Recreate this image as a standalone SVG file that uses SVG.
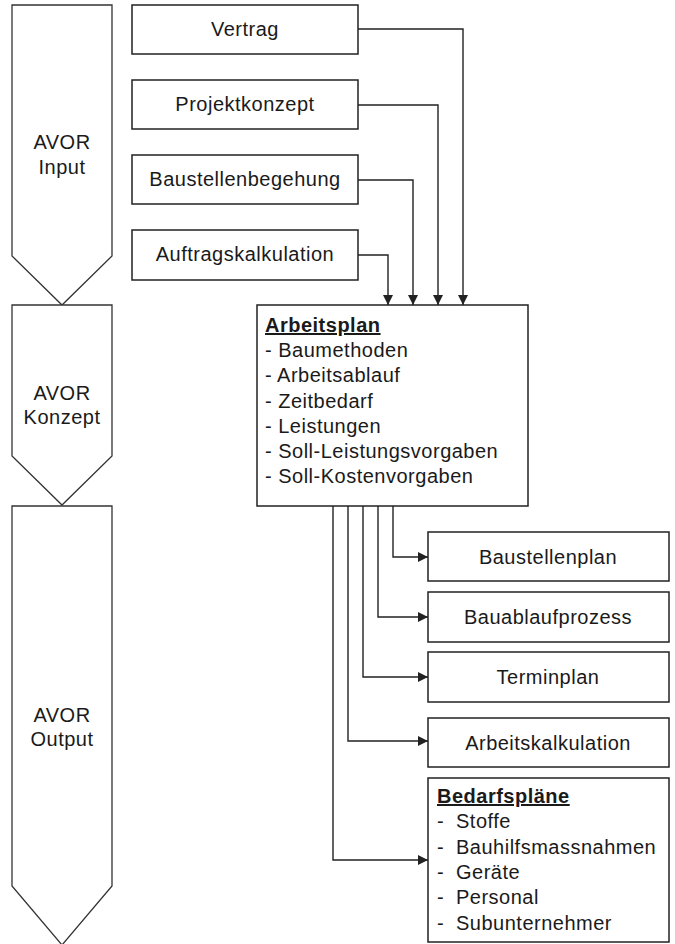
<svg xmlns="http://www.w3.org/2000/svg" width="675" height="944" viewBox="0 0 675 944">
  <defs>
    <marker id="arrow" viewBox="0 0 10 10" refX="10" refY="5" markerWidth="11" markerHeight="10" markerUnits="userSpaceOnUse" orient="auto">
      <path d="M0,0 L10,5 L0,10 Z" fill="#222"/>
    </marker>
    <style>
      .box { fill: #fff; stroke: #222; stroke-width: 1.5; }
      .phase { fill: #fff; stroke: #333; stroke-width: 1.3; }
      .txt { font-family: "Liberation Sans", Arial, sans-serif; font-size: 20px; letter-spacing: 0.5px; fill: #1a1a1a; }
      .mid { text-anchor: middle; }
      .head { font-weight: bold; text-decoration: underline; }
      .conn { fill: none; stroke: #222; stroke-width: 1.4; }
    </style>
  </defs>
  <rect width="675" height="944" fill="#fff"/>

  <!-- phase chevrons -->
  <g id="phase-input">
    <polygon class="phase" points="12,5 112,5 112,256 62,305 12,256"/>
    <text class="txt mid" x="62" y="149">AVOR</text>
    <text class="txt mid" x="62" y="174">Input</text>
  </g>
  <g id="phase-konzept">
    <polygon class="phase" points="12,305 112,305 112,456 62,505 12,456"/>
    <text class="txt mid" x="62" y="400">AVOR</text>
    <text class="txt mid" x="62" y="424">Konzept</text>
  </g>
  <g id="phase-output">
    <polygon class="phase" points="12,506 112,506 112,886 62,945 12,886"/>
    <text class="txt mid" x="62" y="722">AVOR</text>
    <text class="txt mid" x="62" y="746">Output</text>
  </g>

  <!-- input documents -->
  <g id="vertrag">
    <rect class="box" x="132" y="5" width="226" height="49"/>
    <text class="txt mid" x="245" y="36">Vertrag</text>
  </g>
  <g id="projektkonzept">
    <rect class="box" x="132" y="80" width="226" height="49"/>
    <text class="txt mid" x="245" y="111">Projektkonzept</text>
  </g>
  <g id="baustellenbegehung">
    <rect class="box" x="132" y="155" width="226" height="49"/>
    <text class="txt mid" x="245" y="186">Baustellenbegehung</text>
  </g>
  <g id="auftragskalkulation">
    <rect class="box" x="132" y="230" width="226" height="50"/>
    <text class="txt mid" x="245" y="261">Auftragskalkulation</text>
  </g>

  <!-- work plan -->
  <g id="arbeitsplan">
    <rect class="box" x="257" y="305" width="271" height="201"/>
    <text class="txt head" x="265" y="332">Arbeitsplan</text>
    <text class="txt" x="265" y="357">- Baumethoden</text>
    <text class="txt" x="265" y="382">- Arbeitsablauf</text>
    <text class="txt" x="265" y="408">- Zeitbedarf</text>
    <text class="txt" x="265" y="433">- Leistungen</text>
    <text class="txt" x="265" y="458">- Soll-Leistungsvorgaben</text>
    <text class="txt" x="265" y="483">- Soll-Kostenvorgaben</text>
  </g>

  <!-- outputs -->
  <g id="baustellenplan">
    <rect class="box" x="428" y="532" width="241" height="49"/>
    <text class="txt mid" x="548" y="564">Baustellenplan</text>
  </g>
  <g id="bauablaufprozess">
    <rect class="box" x="428" y="592" width="241" height="50"/>
    <text class="txt mid" x="548" y="624">Bauablaufprozess</text>
  </g>
  <g id="terminplan">
    <rect class="box" x="428" y="652" width="241" height="50"/>
    <text class="txt mid" x="548" y="684">Terminplan</text>
  </g>
  <g id="arbeitskalkulation">
    <rect class="box" x="428" y="718" width="241" height="49"/>
    <text class="txt mid" x="548" y="750">Arbeitskalkulation</text>
  </g>
  <g id="bedarfsplaene">
    <rect class="box" x="428" y="778" width="241" height="164"/>
    <text class="txt head" x="437" y="803">Bedarfspläne</text>
    <text class="txt" x="437" y="828">-</text><text class="txt" x="456" y="828">Stoffe</text>
    <text class="txt" x="437" y="854">-</text><text class="txt" x="456" y="854">Bauhilfsmassnahmen</text>
    <text class="txt" x="437" y="879">-</text><text class="txt" x="456" y="879">Geräte</text>
    <text class="txt" x="437" y="904">-</text><text class="txt" x="456" y="904">Personal</text>
    <text class="txt" x="437" y="930">-</text><text class="txt" x="456" y="930">Subunternehmer</text>
  </g>

  <!-- connectors -->
  <g id="connectors">
    <polyline class="conn" points="358,29 463,29 463,305" marker-end="url(#arrow)"/>
    <polyline class="conn" points="358,105 438,105 438,305" marker-end="url(#arrow)"/>
    <polyline class="conn" points="358,180 413,180 413,305" marker-end="url(#arrow)"/>
    <polyline class="conn" points="358,255 388,255 388,305" marker-end="url(#arrow)"/>
    <polyline class="conn" points="393,506 393,557 428,557" marker-end="url(#arrow)"/>
    <polyline class="conn" points="378,506 378,617 428,617" marker-end="url(#arrow)"/>
    <polyline class="conn" points="363,506 363,677 428,677" marker-end="url(#arrow)"/>
    <polyline class="conn" points="348,506 348,741 428,741" marker-end="url(#arrow)"/>
    <polyline class="conn" points="333,506 333,860 428,860" marker-end="url(#arrow)"/>
  </g>
</svg>
